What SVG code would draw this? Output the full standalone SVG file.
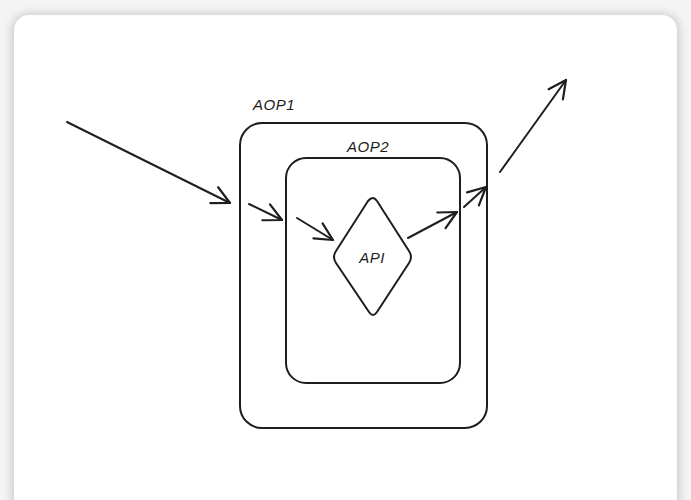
<svg xmlns="http://www.w3.org/2000/svg" width="691" height="500" viewBox="0 0 691 500">
<defs>
<filter id="sh" x="-10%" y="-10%" width="120%" height="120%">
<feGaussianBlur stdDeviation="5"/>
</filter>
<marker id="ah" viewBox="0 0 20 20" refX="18" refY="10" markerWidth="22" markerHeight="22" markerUnits="userSpaceOnUse" orient="auto">
<path d="M2 2 L18 10 L2 18" fill="none" stroke="#1e1e1e" stroke-width="2" stroke-linecap="round" stroke-linejoin="round"/>
</marker>
</defs>
<style>
.box{fill:none;stroke:#1e1e1e;stroke-width:2}
.conn{fill:none;stroke:#1e1e1e;stroke-width:2;stroke-linecap:round;marker-end:url(#ah)}
.lbl{font-family:"Liberation Sans",sans-serif;font-size:15px;fill:#1e1e1e;font-style:italic;letter-spacing:0.5px}
</style>
<rect x="0" y="0" width="691" height="500" fill="#f4f4f4"/>
<rect x="12" y="14" width="667" height="500" rx="16" fill="#c8c8c8" filter="url(#sh)"/>
<rect x="14" y="15" width="663" height="500" rx="15" fill="#ffffff"/>
<g id="aop1">
<rect class="box" x="240" y="123" width="247" height="305" rx="22"/>
<text class="lbl" x="253" y="110">AOP1</text>
</g>
<g id="aop2">
<rect class="box" x="286" y="158" width="174" height="225" rx="20"/>
<text class="lbl" x="347" y="152">AOP2</text>
</g>
<g id="api">
<path class="box" d="M368 201 Q373 195 377 201 L409 251 Q413 257 409 263 L377 312 Q373 318 369 312 L336 263 Q332 257 336 251 Z"/>
<text class="lbl" x="372" y="263" text-anchor="middle">API</text>
</g>
<g id="connectors">
<path class="conn" d="M67 122 L230 203"/>
<path class="conn" d="M249 204 L282 220"/>
<path class="conn" d="M297 218 L333 240"/>
<path class="conn" d="M408 238 L457 212"/>
<path class="conn" d="M464 207 L486 187"/>
<path class="conn" d="M500 172 L566 80"/>
</g>
</svg>
